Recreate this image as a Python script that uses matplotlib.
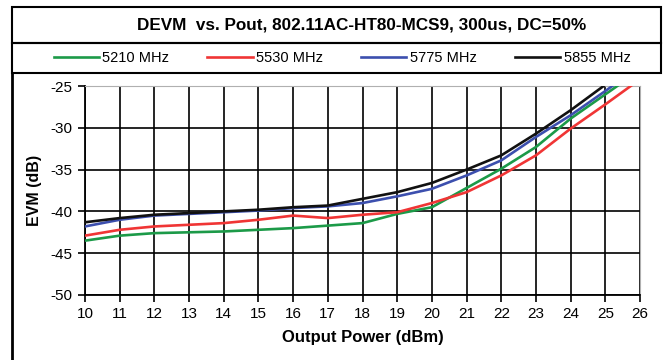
import matplotlib
matplotlib.use("Agg")
from matplotlib import pyplot as plt
from matplotlib.patches import Rectangle
from matplotlib.lines import Line2D

plt.rcParams["font.family"] = ["Liberation Sans Narrow", "Liberation Sans", "DejaVu Sans"]
plt.rcParams["axes.unicode_minus"] = False

pout = [10, 11, 12, 13, 14, 15, 16, 17, 18, 19, 20, 21, 22, 23, 24, 25, 26]
evm_5210 = [-43.5, -42.9, -42.6, -42.5, -42.4, -42.2, -42.0, -41.7, -41.4, -40.3, -39.5, -37.2, -34.9, -32.3, -28.9, -26.0, -23.1]
evm_5530 = [-42.9, -42.2, -41.8, -41.6, -41.4, -41.0, -40.5, -40.8, -40.4, -40.1, -39.0, -37.7, -35.7, -33.3, -30.1, -27.2, -24.2]
evm_5775 = [-41.8, -41.0, -40.5, -40.3, -40.1, -39.9, -39.6, -39.4, -39.0, -38.2, -37.3, -35.7, -33.9, -31.1, -28.5, -25.6, -22.6]
evm_5855 = [-41.3, -40.8, -40.4, -40.2, -40.0, -39.8, -39.5, -39.3, -38.5, -37.7, -36.6, -35.0, -33.3, -30.7, -27.9, -24.85, -21.8]

labels = ["5210 MHz", "5530 MHz", "5775 MHz", "5855 MHz"]
colors = ["#1c9a48", "#f03535", "#3c4fae", "#111111"]
series = [evm_5210, evm_5530, evm_5775, evm_5855]

W, H = 664, 360
fig = plt.figure(figsize=(6.64, 3.6), dpi=100)
ax = fig.add_axes([85 / W, 1 - 295 / H, (640 - 85) / W, (295 - 86) / H])

for s, c, l in zip(series, colors, labels):
    ax.plot(pout, s, color=c, linewidth=1.9, label=l, zorder=3)

ax.set_xlim(10, 26)
ax.set_ylim(-50, -25)
ax.set_xticks(range(10, 27))
ax.set_yticks(range(-50, -24, 5))
ax.grid(True, color="black", linewidth=1.2)
ax.tick_params(direction="out", length=5, width=1.2, labelsize=11, pad=4, colors="black")
for side in ["top", "right"]:
    ax.spines[side].set_color("#b0b0b0")
for side in ["left", "bottom"]:
    ax.spines[side].set_linewidth(1.3)
ax.set_xlabel("Output Power (dBm)", fontsize=12, fontweight="bold", labelpad=6)
ax.set_ylabel("EVM (dB)", fontsize=11.5, fontweight="bold", labelpad=6)

# title box and legend box
fig.patches.append(Rectangle((12 / W, 1 - 43 / H), (661 - 12) / W, 36 / H,
                             transform=fig.transFigure, fill=False, edgecolor="black", linewidth=1.5))
fig.patches.append(Rectangle((12 / W, 1 - 73 / H), (661 - 12) / W, 30 / H,
                             transform=fig.transFigure, fill=False, edgecolor="black", linewidth=1.5))
fig.lines.append(Line2D([12 / W, 12 / W], [0, 1 - 73 / H], transform=fig.transFigure,
                        color="black", linewidth=2))

fig.text(362 / W, 1 - 25 / H, "DEVM  vs. Pout, 802.11AC-HT80-MCS9, 300us, DC=50%",
         ha="center", va="center", fontsize=12.3, fontweight="bold")

handles, lbls = ax.get_legend_handles_labels()
fig.legend(handles, lbls, loc="center", bbox_to_anchor=(342 / W, 1 - 58 / H), ncol=4,
           frameon=False, fontsize=10.5, handlelength=3.1, handletextpad=0.25,
           columnspacing=2.6)

fig.savefig("out.png", dpi=100)
